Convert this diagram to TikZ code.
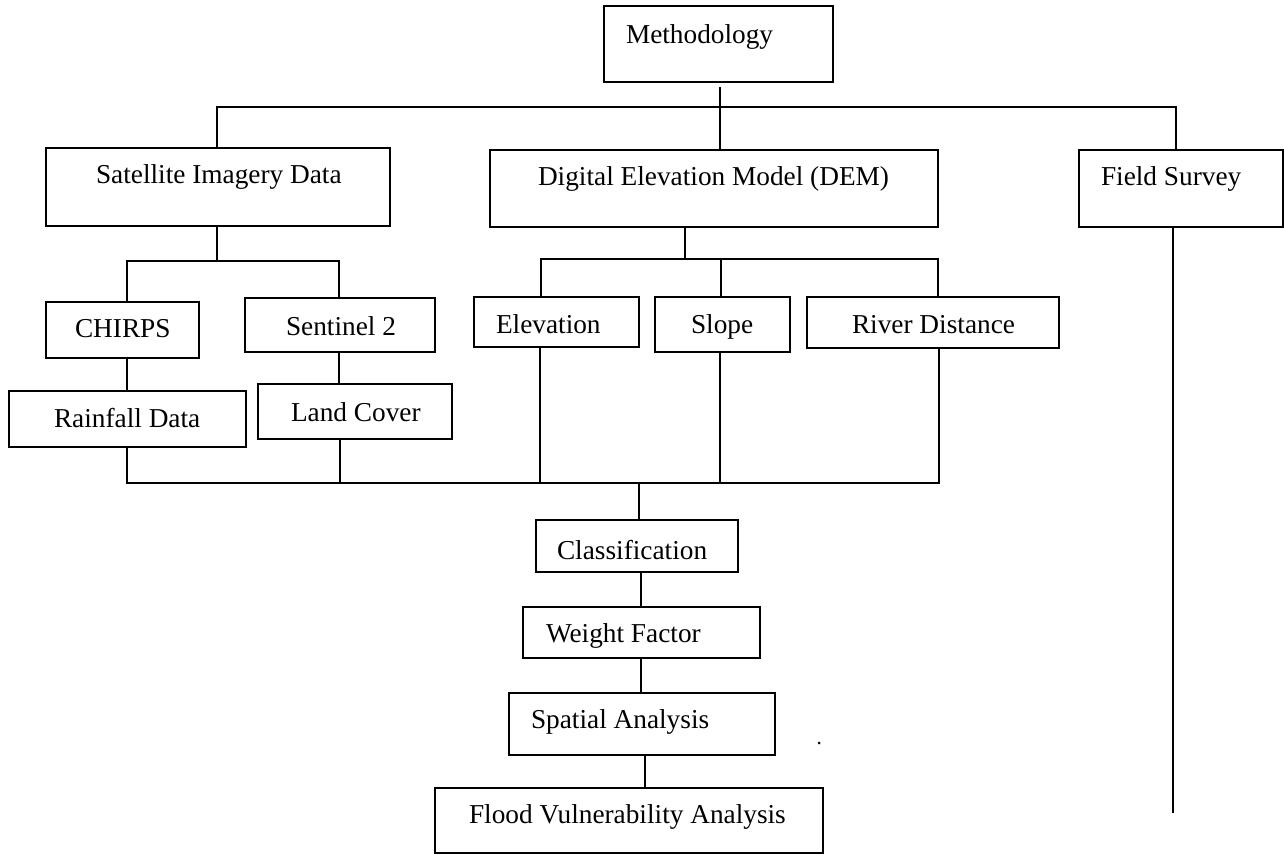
\documentclass[tikz,border=0pt]{standalone}
\usepackage{fontspec}
\setmainfont{Liberation Serif}
\begin{document}
\begin{tikzpicture}[x=1pt,y=-1pt,
  box/.style={draw, line width=1.4pt, inner sep=0pt, outer sep=0pt},
  lbl/.style={anchor=base west, inner sep=0pt, outer sep=0pt, font=\fontsize{27.3}{32}\selectfont},
  conn/.style={line width=1.2pt}]
\useasboundingbox (0,0) rectangle (1284,854);

% boxes
\node[box, minimum width=229pt, minimum height=76pt] (meth) at (718.5,44) {};
\node[box, minimum width=344pt, minimum height=78pt] (sat) at (218,187) {};
\node[box, minimum width=448pt, minimum height=77pt] (dem) at (714,188.5) {};
\node[box, minimum width=204pt, minimum height=77pt] (field) at (1181,188.5) {};
\node[box, minimum width=153pt, minimum height=56pt] (chirps) at (122.5,330) {};
\node[box, minimum width=190pt, minimum height=54pt] (sent) at (340,325) {};
\node[box, minimum width=237pt, minimum height=56pt] (rain) at (127.5,419) {};
\node[box, minimum width=194pt, minimum height=55pt] (land) at (355,411.5) {};
\node[box, minimum width=165pt, minimum height=50pt] (elev) at (556.5,322) {};
\node[box, minimum width=135pt, minimum height=55pt] (slope) at (722.5,324.5) {};
\node[box, minimum width=252pt, minimum height=51pt] (river) at (933,322.5) {};
\node[box, minimum width=202pt, minimum height=52pt] (class) at (637,546) {};
\node[box, minimum width=237pt, minimum height=51pt] (weight) at (641.5,632.5) {};
\node[box, minimum width=266pt, minimum height=62pt] (spatial) at (642,724) {};
\node[box, minimum width=388pt, minimum height=65pt] (flood) at (629,820.5) {};

% labels
\node[lbl] (tmeth) at (626,43) {Methodology};
\node[lbl] (tsat) at (96,183) {Satellite Imagery Data};
\node[lbl] (tdem) at (538,185) {Digital Elevation Model (DEM)};
\node[lbl] (tfield) at (1101,185) {Field Survey};
\node[lbl] (tchirps) at (75,337) {CHIRPS};
\node[lbl] (tsent) at (286,335) {Sentinel 2};
\node[lbl] (train) at (54,427) {Rainfall Data};
\node[lbl] (tland) at (291,421) {Land Cover};
\node[lbl] (telev) at (496,333) {Elevation};
\node[lbl] (tslope) at (691,333) {Slope};
\node[lbl] (triver) at (852,333) {River Distance};
\node[lbl] (tclass) at (557,559) {Classification};
\node[lbl] (tweight) at (546,642) {Weight Factor};
\node[lbl] (tspatial) at (531,728) {Spatial Analysis};
\node[lbl] (tflood) at (469,823) {Flood Vulnerability Analysis};

% top level connectors
\coordinate (m1) at (720,87);
\draw[conn] (m1) -- (m1 |- dem.north);
\coordinate (busL) at (217,107);
\coordinate (busR) at (1176,107);
\draw[conn] (busL |- sat.north) -- (busL) -- (busR) -- (busR |- field.north);

% satellite branch
\coordinate (s1) at (217,261);
\draw[conn] (s1 |- sat.south) -- (s1);
\coordinate (sbL) at (127,261);
\coordinate (sbR) at (339,261);
\draw[conn] (sbL |- chirps.north) -- (sbL) -- (sbR) -- (sbR |- sent.north);
\draw[conn] (sbL |- chirps.south) -- (sbL |- rain.north);
\draw[conn] (sbR |- sent.south) -- (sbR |- land.north);

% DEM branch
\coordinate (d1) at (685,259);
\draw[conn] (d1 |- dem.south) -- (d1);
\coordinate (dbL) at (541,259);
\coordinate (dbM) at (721,259);
\coordinate (dbR) at (938,259);
\draw[conn] (dbL |- elev.north) -- (dbL) -- (dbR) -- (dbR |- river.north);
\draw[conn] (dbM) -- (dbM |- slope.north);

% bottom bus
\coordinate (bL) at (127,483);
\coordinate (bR) at (939,483);
\coordinate (lx) at (340,483);
\coordinate (ex) at (540,483);
\coordinate (sx) at (720,483);
\draw[conn] (bL |- rain.south) -- (bL) -- (bR) -- (bR |- river.south);
\draw[conn] (lx |- land.south) -- (lx);
\draw[conn] (ex |- elev.south) -- (ex);
\draw[conn] (sx |- slope.south) -- (sx);
\coordinate (cx) at (639,483);
\draw[conn] (cx) -- (cx |- class.north);

% lower chain
\coordinate (wx) at (641,600);
\draw[conn] (wx |- class.south) -- (wx |- weight.north);
\coordinate (sp) at (641,680);
\draw[conn] (sp |- weight.south) -- (sp |- spatial.north);
\coordinate (fx) at (645,787);
\draw[conn] (fx |- spatial.south) -- (fx |- flood.north);

% field survey line
\coordinate (fe) at (1173,813);
\draw[conn] (fe |- field.south) -- (fe);

% stray dot
\fill (819,743) circle (1.5pt);
\end{tikzpicture}
\end{document}
